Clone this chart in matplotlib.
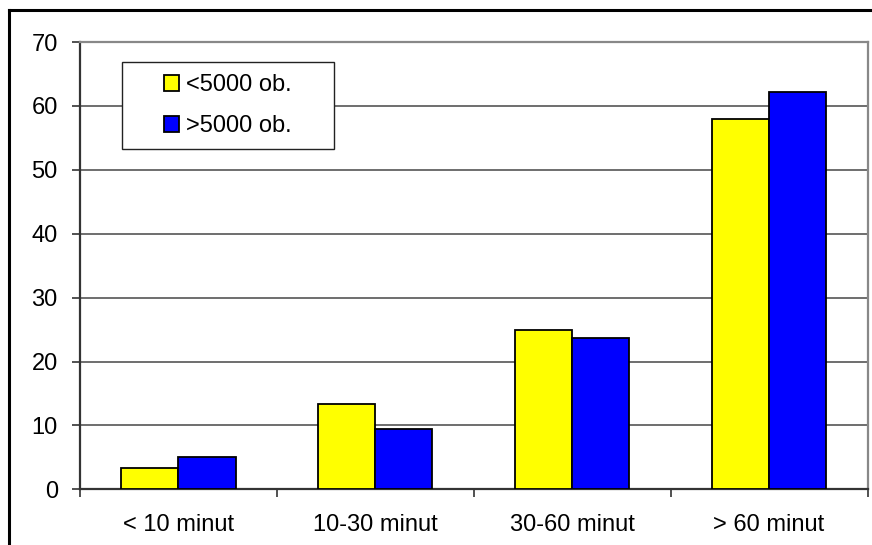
import matplotlib
matplotlib.use("Agg")
import matplotlib.pyplot as plt
import numpy as np
from matplotlib.lines import Line2D
from matplotlib.patches import Rectangle, Patch

categories = ["< 10 minut", "10-30 minut", "30-60 minut", "> 60 minut"]
series_names = ["<5000 ob.", ">5000 ob."]
small_towns = [3.4, 13.4, 24.9, 57.9]
large_towns = [5.0, 9.4, 23.7, 62.2]
yticks = [0, 10, 20, 30, 40, 50, 60, 70]

plt.rcParams['font.family'] = ['Liberation Sans', 'DejaVu Sans']

W, H = 872, 545
fig = plt.figure(figsize=(W / 100, H / 100), dpi=100)
fig.patch.set_facecolor("white")

ax = fig.add_axes([80 / W, 1 - 489.3 / H, (867.5 - 80) / W, (489.3 - 42) / H])

x = np.arange(len(categories))
bw = 0.29
ax.bar(x - bw / 2, small_towns, bw, color="#FFFF00", edgecolor="black", linewidth=1.3, zorder=3)
ax.bar(x + bw / 2, large_towns, bw, color="#0000FF", edgecolor="black", linewidth=1.3, zorder=3)

ax.set_xlim(-0.5, len(categories) - 0.5)
ax.set_ylim(0, 70)
ax.set_yticks(yticks)
ax.set_yticklabels([str(v) for v in yticks])
ax.yaxis.grid(True, color="#555555", linewidth=1.2, zorder=0)
ax.set_axisbelow(True)

# category boundary ticks (major) and labels at centres (minor)
ax.set_xticks(np.arange(len(categories) + 1) - 0.5)
ax.set_xticklabels([])
ax.set_xticks(x, minor=True)
ax.set_xticklabels(categories, minor=True)
ax.tick_params(axis="x", which="major", length=6, width=1.2, color="#333333", direction="out")
ax.tick_params(axis="x", which="minor", length=0, pad=18, labelsize=17)
ax.tick_params(axis="y", length=6, width=1.2, color="#333333", direction="out", pad=10, labelsize=17)

for side in ["left", "bottom"]:
    ax.spines[side].set_color("#333333")
    ax.spines[side].set_linewidth(1.6)
for side in ["top", "right"]:
    ax.spines[side].set_color("#888888")
    ax.spines[side].set_linewidth(1.6)

# legend box
lx0, ly0, lx1, ly1 = 121.7, 61.7, 334, 149.3
rect = Rectangle((lx0 / W, 1 - ly1 / H), (lx1 - lx0) / W, (ly1 - ly0) / H,
                 transform=fig.transFigure, facecolor="white", edgecolor="#222222",
                 linewidth=1.0, zorder=4.5)
fig.add_artist(rect)
handles = [Patch(facecolor="#FFFF00", edgecolor="black", linewidth=1.3),
           Patch(facecolor="#0000FF", edgecolor="black", linewidth=1.3)]
leg = fig.legend(handles, series_names, loc="center",
                 bbox_to_anchor=(lx0 / W, 1 - ly1 / H, (lx1 - lx0) / W, (ly1 - ly0) / H),
                 frameon=False, fontsize=17, handlelength=0.65, handleheight=0.65,
                 handletextpad=0.3, labelspacing=0.8, borderpad=0)
leg.set_zorder(6)

# outer chart border (left and top visible)
fig.add_artist(Line2D([8.5 / W, 8.5 / W], [0, 1 - 10 / H], transform=fig.transFigure,
                      color="black", linewidth=2.2))
fig.add_artist(Line2D([8.5 / W, 1], [1 - 10 / H, 1 - 10 / H], transform=fig.transFigure,
                      color="black", linewidth=2.2))

fig.savefig("out.png", dpi=100)
